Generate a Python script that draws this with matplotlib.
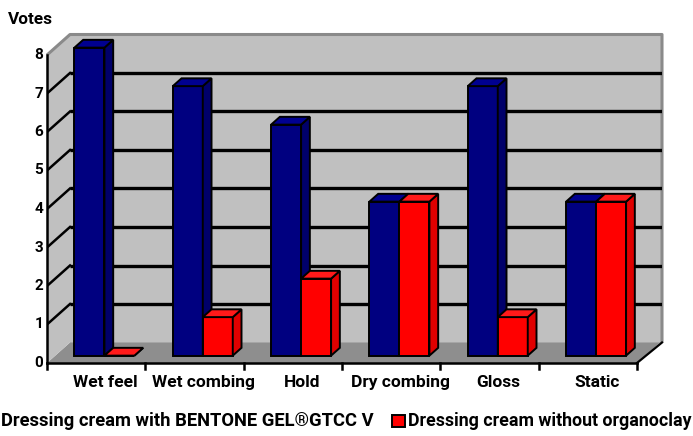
import matplotlib
matplotlib.use("Agg")
import matplotlib.pyplot as plt
from matplotlib.patches import Polygon, Rectangle

# Data
categories = ["Wet feel", "Wet combing", "Hold", "Dry combing", "Gloss", "Static"]
with_bentone = [8, 7, 6, 4, 7, 4]
without_clay = [0, 1, 2, 4, 1, 4]
series_names = ["Dressing cream with BENTONE GEL\u00aeGTCC V",
                "Dressing cream without organoclay"]
y_ticks = [0, 1, 2, 3, 4, 5, 6, 7, 8]
y_title = "Votes"

FONT = ["Roboto", "DejaVu Sans"]

W, H = 693, 436
fig = plt.figure(figsize=(W / 100, H / 100), dpi=100)
renderer = fig.canvas.get_renderer()


def fit_width(t, width_px):
    """Scale a text's font size so that it spans width_px pixels."""
    w = t.get_window_extent(renderer=renderer).width
    t.set_fontsize(t.get_fontsize() * width_px / w)


# pixel geometry of the 3-D box
PX_LEFT, PX_RIGHT = 47, 662
PX_BOTTOM, PX_TOP = 363, 35
UX = 98.33           # pixels per category
UY = 38.5            # pixels per vote
XMAX = (PX_RIGHT - PX_LEFT) / UX
YMAX = (PX_BOTTOM - PX_TOP) / UY
DX = 23 / UX         # depth offset (x)
DY = 20.5 / UY       # depth offset (y)
N = len(categories)
YTOP = max(y_ticks)

ax = fig.add_axes([PX_LEFT / W, (H - PX_BOTTOM) / H,
                   (PX_RIGHT - PX_LEFT) / W, (PX_BOTTOM - PX_TOP) / H])
ax.set_xlim(0, XMAX)
ax.set_ylim(0, YMAX)
ax.axis("off")

wall = "#c0c0c0"
floor = "#8e8e8e"

# back wall, floor and side wall
ax.add_patch(Rectangle((DX, DY), XMAX - DX, YTOP, facecolor=wall,
                       edgecolor="none", zorder=1, clip_on=False))
ax.add_patch(Polygon([(0, 0), (N, 0), (N + DX, DY), (DX, DY)],
                     closed=True, facecolor=floor, edgecolor="none",
                     zorder=1, clip_on=False))
ax.add_patch(Polygon([(0, 0), (DX, DY), (DX, YTOP + DY), (0, YTOP)],
                     closed=True, facecolor=wall, edgecolor="none",
                     zorder=1, clip_on=False))
# wall border
ax.plot([0, DX, XMAX, XMAX], [YTOP, YTOP + DY, YTOP + DY, DY],
        color="#8a8a8a", lw=2.2, zorder=2, clip_on=False,
        solid_capstyle="butt")
ax.plot([N, XMAX], [0, DY], color="black", lw=1.6, zorder=2, clip_on=False)

# gridlines on the back wall and the side wall
for k in y_ticks[1:-1]:
    ax.plot([DX, XMAX], [k + DY, k + DY], color="black", lw=2.4, zorder=2,
            solid_capstyle="butt")
    ax.plot([0, DX], [k, k + DY], color="black", lw=1.8, zorder=2)

# front axes
ax.plot([0, 0], [0, YTOP], color="black", lw=1.8, zorder=3, clip_on=False)
ax.plot([0, N], [0, 0], color="black", lw=1.8, zorder=3, clip_on=False)
for i in range(N + 1):
    ax.plot([i, i], [0, -6 / UY], color="black", lw=1.8, zorder=3,
            clip_on=False)

# bars (front face via ax.bar, side and top faces as polygons)
BW = 0.305
F0, F1 = 0.36, 0.74
ox0, oy0 = F0 * DX, F0 * DY
ddx, ddy = (F1 - F0) * DX, (F1 - F0) * DY
styles = [("#000080", "#00006a", "#000090"),
          ("#ff0000", "#e00000", "#ff1a1a")]
lw_edge = 1.4
for s, (vals, (cf, cs, ct)) in enumerate(zip([with_bentone, without_clay], styles)):
    lefts = [i + 0.5 - BW + s * BW + ox0 for i in range(N)]
    ax.bar(lefts, vals, width=BW, bottom=oy0, align="edge", color=cf,
           edgecolor="black", linewidth=lw_edge, zorder=4 + s)
    for x0, v in zip(lefts, vals):
        top = oy0 + v
        x1 = x0 + BW
        ax.add_patch(Polygon([(x1, oy0), (x1 + ddx, oy0 + ddy),
                              (x1 + ddx, top + ddy), (x1, top)],
                             closed=True, facecolor=cs, edgecolor="black",
                             linewidth=lw_edge, zorder=4 + s))
        ax.add_patch(Polygon([(x0, top), (x0 + ddx, top + ddy),
                              (x1 + ddx, top + ddy), (x1, top)],
                             closed=True, facecolor=ct, edgecolor="black",
                             linewidth=lw_edge, zorder=4 + s))

# tick labels
for k in y_ticks:
    ax.text(-4 / UX, k, str(k), ha="right", va="center", fontsize=11,
            fontweight="bold", family=FONT, zorder=6, clip_on=False)

cat_texts = []
for i, c in enumerate(categories):
    cat_texts.append(ax.text(i + 0.5 + 0.09, -19 / UY, c, ha="center",
                             va="center", fontsize=11, fontweight="bold",
                             family=FONT, clip_on=False))
fit_width(cat_texts[1], 103)
for t in cat_texts:
    t.set_fontsize(cat_texts[1].get_fontsize())

vt = fig.text(8 / W, 1 - 20 / H, y_title, ha="left", va="center",
              fontsize=10, fontweight="bold", family=FONT)
fit_width(vt, 45)

# legend along the bottom edge
lt1 = fig.text(1 / W, 1 - 421 / H, series_names[0], ha="left", va="center",
               fontsize=12, fontweight="bold", family=FONT)
fit_width(lt1, 371)
fig.patches.append(Rectangle((392 / W, 1 - 427 / H), 13 / W, 12 / H,
                             transform=fig.transFigure, facecolor="#ff0000",
                             edgecolor="black", linewidth=1.4))
lt2 = fig.text(408 / W, 1 - 421 / H, series_names[1], ha="left", va="center",
               fontsize=12, fontweight="bold", family=FONT)
fit_width(lt2, 282)

fig.savefig("out.png", dpi=100, facecolor="white")
